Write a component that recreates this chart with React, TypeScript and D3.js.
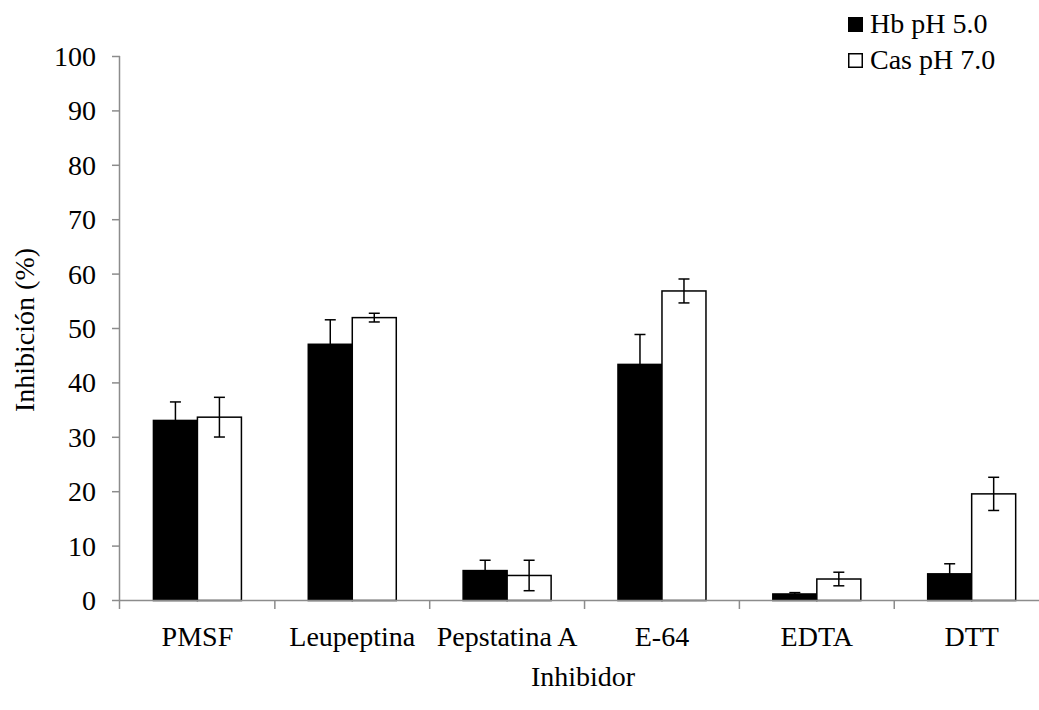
import React from "react";
import * as d3 from "d3";

const categories = ["PMSF", "Leupeptina", "Pepstatina A", "E-64", "EDTA", "DTT"];
const seriesNames = ["Hb pH 5.0", "Cas pH 7.0"];
const hbValues = [33.1, 47.1, 5.5, 43.4, 1.2, 4.9];
const hbErrors = [3.4, 4.5, 1.9, 5.5, 0.25, 1.85];
const casValues = [33.7, 52.0, 4.6, 56.9, 3.95, 19.6];
const casErrors = [3.65, 0.8, 2.8, 2.2, 1.25, 3.05];
const yTicks = [0, 10, 20, 30, 40, 50, 60, 70, 80, 90, 100];

const W = 1039;
const H = 710;
const FONT = "Liberation Serif, Times New Roman, Times, serif";
const AXIS = "#8c8c8c";

export default function App() {
  const x = d3.scaleBand<string>().domain(categories).range([120, 1049.1]).paddingInner(0).paddingOuter(0);
  const y = d3.scaleLinear().domain([0, 100]).range([600.5, 56.5]);
  const barW = 44;
  const series = [
    { name: seriesNames[0], values: hbValues, errors: hbErrors, fill: "#000" },
    { name: seriesNames[1], values: casValues, errors: casErrors, fill: "#fff" },
  ];
  const cap = 5.5;
  const fs = 28;
  return (
    <svg width={W} height={H} style={{ position: "absolute", left: 0, top: 0, background: "#fff", fontFamily: FONT }}>
      <rect x={0} y={0} width={W} height={H} fill="#fff" />
      {categories.map((c, i) => {
        const center = (x(c) as number) + x.bandwidth() / 2;
        return (
          <g key={c}>
            {series.map((s, si) => {
              const bx = center - barW + si * barW;
              const top = y(s.values[i]);
              return (
                <rect key={si} x={bx} y={top} width={barW} height={y(0) - top} fill={s.fill} stroke="#000" strokeWidth={1.5} />
              );
            })}
          </g>
        );
      })}
      <line x1={120} x2={1049} y1={600.5} y2={600.5} stroke={AXIS} strokeWidth={1.5} />
      <line x1={119.5} x2={119.5} y1={56} y2={601} stroke={AXIS} strokeWidth={1.5} />
      {yTicks.map((t) => (
        <g key={t}>
          <line x1={112} x2={120} y1={y(t)} y2={y(t)} stroke={AXIS} strokeWidth={1.5} />
          <text x={96} y={y(t)} dy="0.34em" textAnchor="end" fontSize={fs} fill="#000" style={{ fontFamily: FONT }}>
            {t}
          </text>
        </g>
      ))}
      {categories.map((c, i) => (
        <line key={"t" + i} x1={(x(c) as number) + x.bandwidth()} x2={(x(c) as number) + x.bandwidth()} y1={600.5} y2={609} stroke={AXIS} strokeWidth={1.5} />
      ))}
      <line x1={119.5} x2={119.5} y1={600} y2={609} stroke={AXIS} strokeWidth={1.5} />
      {categories.map((c) => (
        <text key={"l" + c} x={(x(c) as number) + x.bandwidth() / 2} y={646} textAnchor="middle" fontSize={fs} fill="#000" style={{ fontFamily: FONT }}>
          {c}
        </text>
      ))}
      {categories.map((c, i) => {
        const center = (x(c) as number) + x.bandwidth() / 2;
        return series.map((s, si) => {
          const ex = center - barW / 2 + si * barW;
          const hi = y(s.values[i] + s.errors[i]);
          const lo = y(Math.max(0, s.values[i] - s.errors[i]));
          return (
            <g key={c + si} stroke="#000" strokeWidth={1.5}>
              <line x1={ex} x2={ex} y1={hi} y2={lo} />
              <line x1={ex - cap} x2={ex + cap} y1={hi} y2={hi} />
              <line x1={ex - cap} x2={ex + cap} y1={lo} y2={lo} />
            </g>
          );
        });
      })}
      <text x={583} y={686} textAnchor="middle" fontSize={fs} fill="#000" style={{ fontFamily: FONT }}>
        Inhibidor
      </text>
      <text transform={`translate(34,330) rotate(-90)`} textAnchor="middle" fontSize={fs} fill="#000" style={{ fontFamily: FONT }}>
        Inhibición (%)
      </text>
      {series.map((s, si) => (
        <g key={"lg" + si} transform={`translate(848,${17 + si * 36})`}>
          <rect x={0.75} y={0.75} width={13.5} height={13.5} fill={s.fill} stroke="#000" strokeWidth={1.5} />
          <text x={22} y={15.5} fontSize={fs} fill="#000" style={{ fontFamily: FONT }}>
            {s.name}
          </text>
        </g>
      ))}
    </svg>
  );
}
